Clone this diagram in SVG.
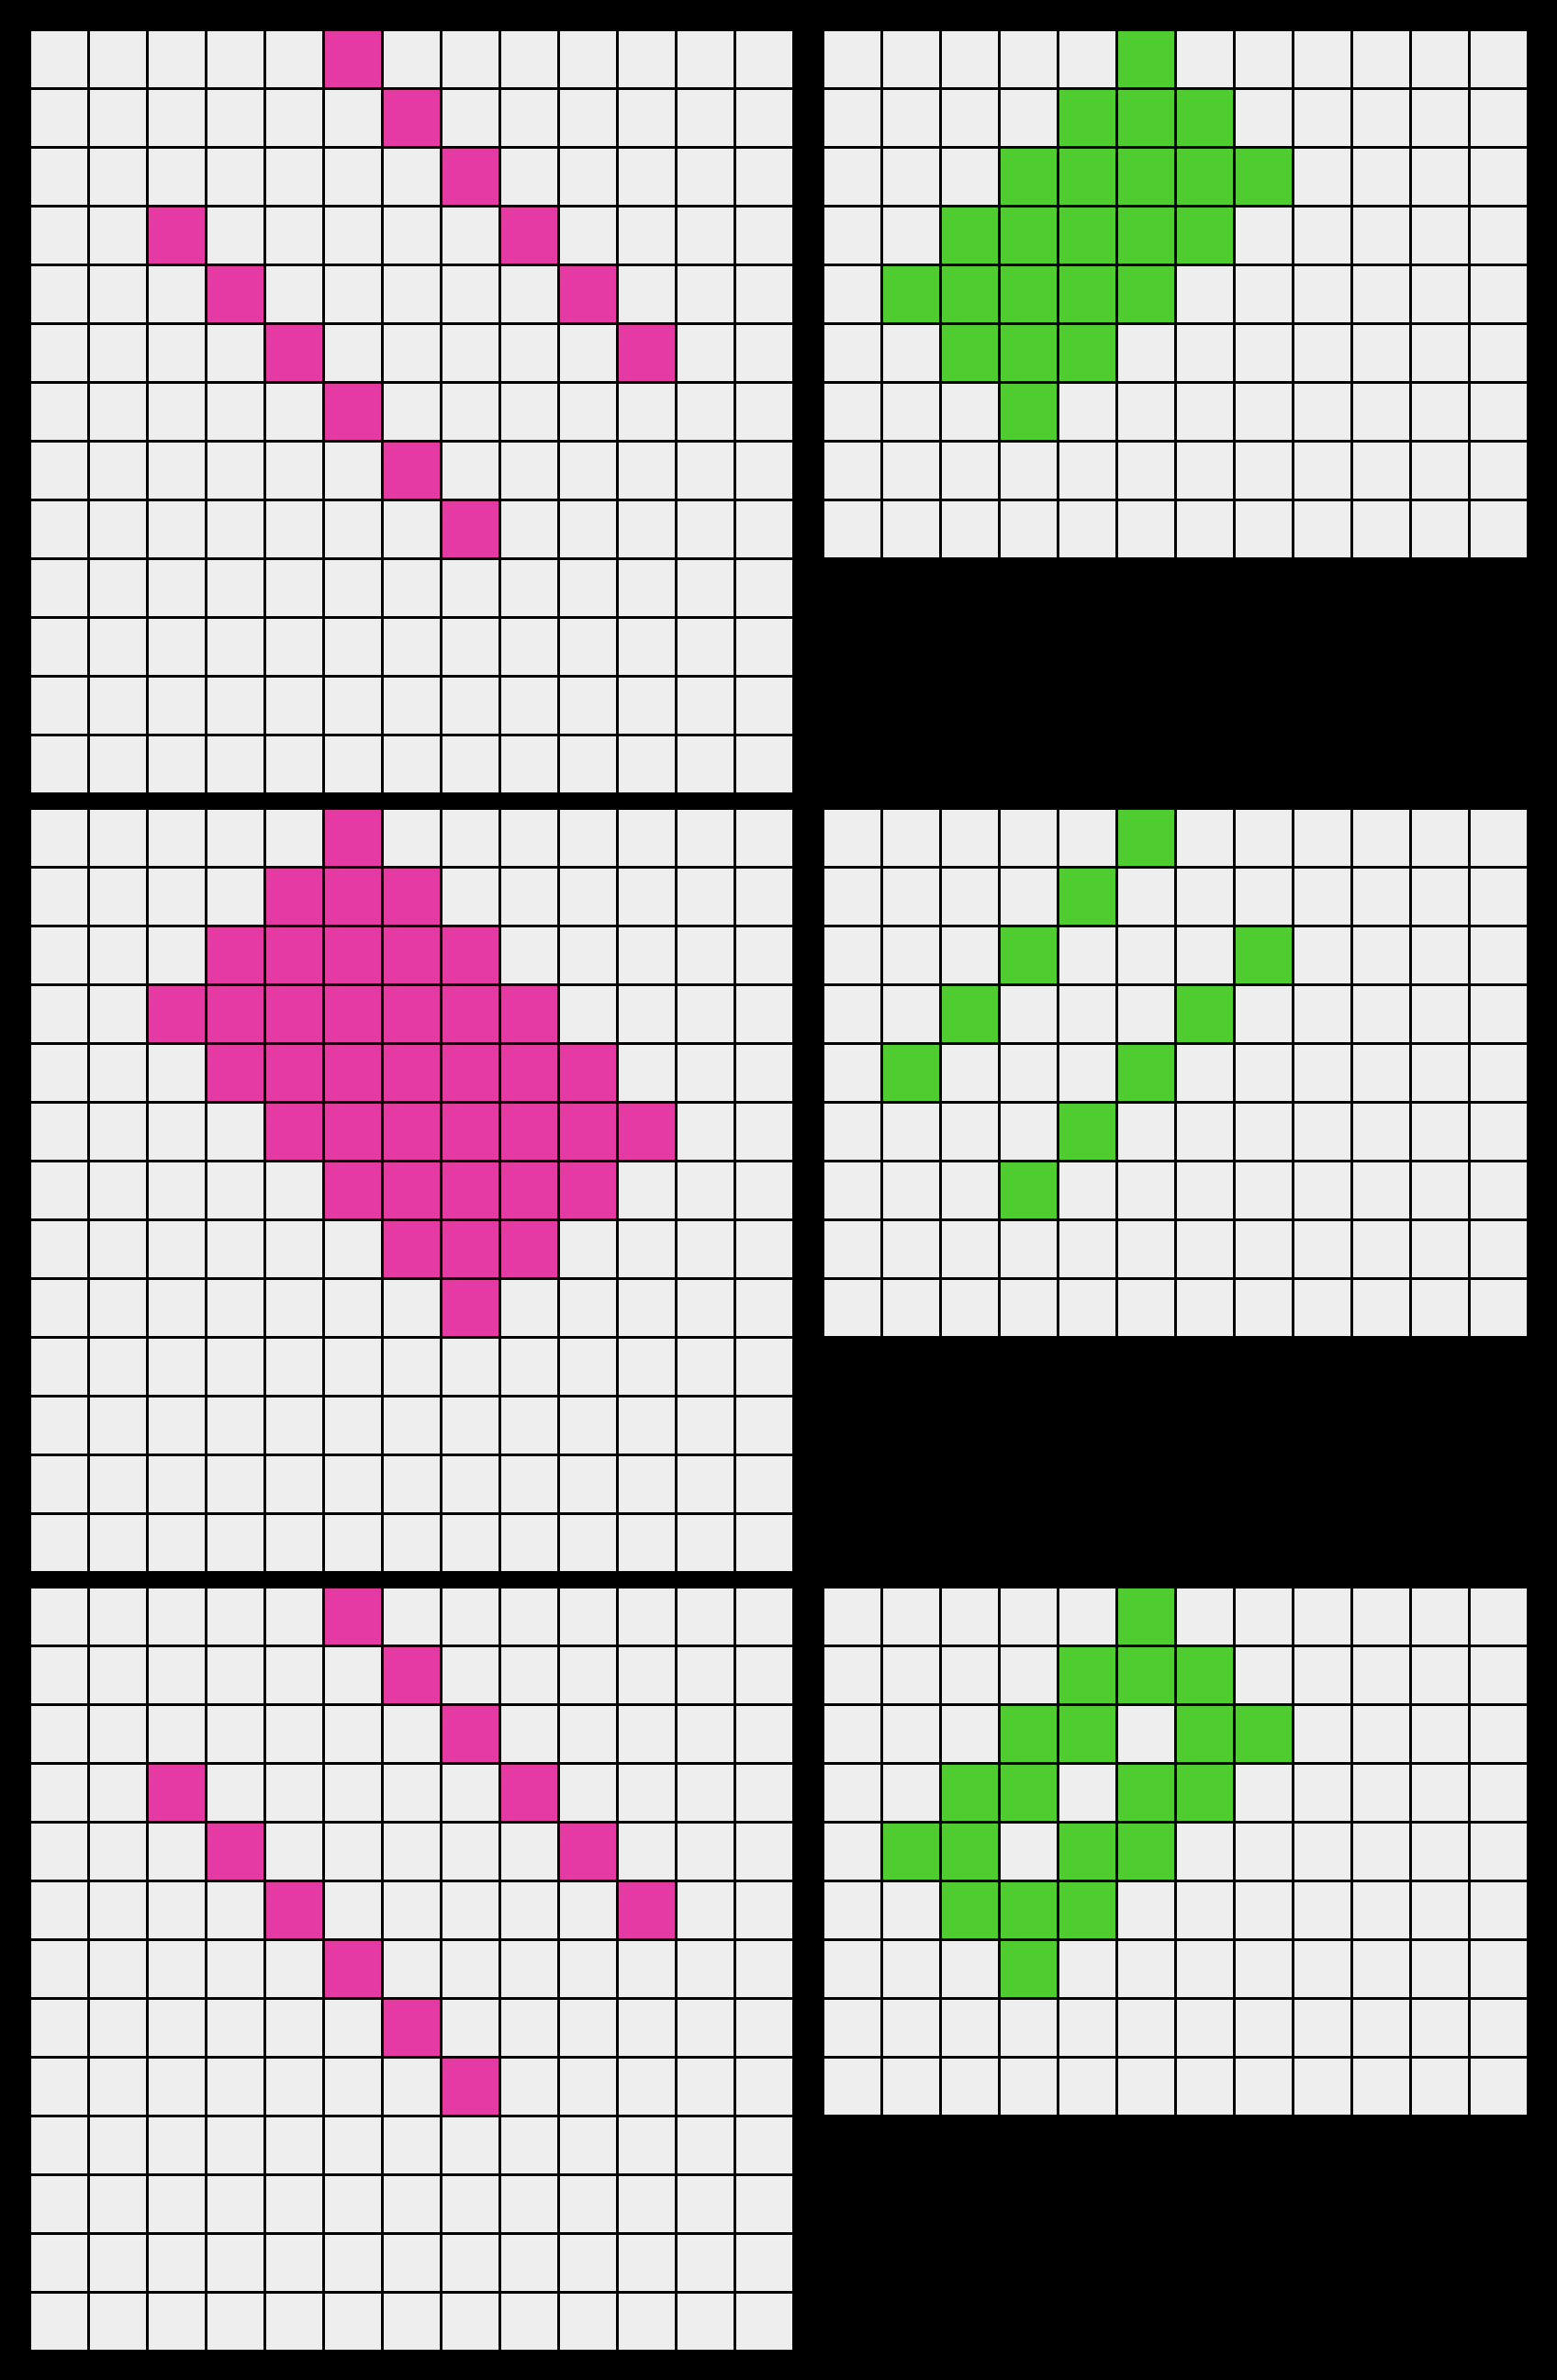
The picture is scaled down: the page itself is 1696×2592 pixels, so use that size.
<svg xmlns="http://www.w3.org/2000/svg" xmlns:xlink="http://www.w3.org/1999/xlink" width="1696" height="2592" viewBox="0 0 1696 2592">
<style>
.g{fill:#EEEEEE}
.p{fill:#E53AA3}
.q{fill:#4FCC30}
</style>
<defs>
<rect id="c" width="61" height="61"/>
<g id="r13" class="g">
<use href="#c" x="0"/><use href="#c" x="64"/><use href="#c" x="128"/><use href="#c" x="192"/><use href="#c" x="256"/><use href="#c" x="320"/><use href="#c" x="384"/><use href="#c" x="448"/><use href="#c" x="512"/><use href="#c" x="576"/><use href="#c" x="640"/><use href="#c" x="704"/><use href="#c" x="768"/>
</g>
<g id="r12" class="g">
<use href="#c" x="0"/><use href="#c" x="64"/><use href="#c" x="128"/><use href="#c" x="192"/><use href="#c" x="256"/><use href="#c" x="320"/><use href="#c" x="384"/><use href="#c" x="448"/><use href="#c" x="512"/><use href="#c" x="576"/><use href="#c" x="640"/><use href="#c" x="704"/>
</g>
<g id="g13">
<use href="#r13" y="0"/><use href="#r13" y="64"/><use href="#r13" y="128"/><use href="#r13" y="192"/><use href="#r13" y="256"/><use href="#r13" y="320"/><use href="#r13" y="384"/><use href="#r13" y="448"/><use href="#r13" y="512"/><use href="#r13" y="576"/><use href="#r13" y="640"/><use href="#r13" y="704"/><use href="#r13" y="768"/>
</g>
<g id="g12">
<use href="#r12" y="0"/><use href="#r12" y="64"/><use href="#r12" y="128"/><use href="#r12" y="192"/><use href="#r12" y="256"/><use href="#r12" y="320"/><use href="#r12" y="384"/><use href="#r12" y="448"/><use href="#r12" y="512"/>
</g>
<g id="pinkA" class="p">
<use href="#c" x="320" y="0"/><use href="#c" x="384" y="64"/><use href="#c" x="448" y="128"/>
<use href="#c" x="128" y="192"/><use href="#c" x="512" y="192"/>
<use href="#c" x="192" y="256"/><use href="#c" x="576" y="256"/>
<use href="#c" x="256" y="320"/><use href="#c" x="640" y="320"/>
<use href="#c" x="320" y="384"/><use href="#c" x="384" y="448"/><use href="#c" x="448" y="512"/>
</g>
</defs>
<rect width="1696" height="2592" fill="#000000"/>

<g id="input1" transform="translate(34,34)">
<use href="#g13"/>
<use href="#pinkA"/>
</g>

<g id="output1" transform="translate(898,34)">
<use href="#g12"/>
<g class="q">
<use href="#c" x="320" y="0"/>
<use href="#c" x="256" y="64"/><use href="#c" x="320" y="64"/><use href="#c" x="384" y="64"/>
<use href="#c" x="192" y="128"/><use href="#c" x="256" y="128"/><use href="#c" x="320" y="128"/><use href="#c" x="384" y="128"/><use href="#c" x="448" y="128"/>
<use href="#c" x="128" y="192"/><use href="#c" x="192" y="192"/><use href="#c" x="256" y="192"/><use href="#c" x="320" y="192"/><use href="#c" x="384" y="192"/>
<use href="#c" x="64" y="256"/><use href="#c" x="128" y="256"/><use href="#c" x="192" y="256"/><use href="#c" x="256" y="256"/><use href="#c" x="320" y="256"/>
<use href="#c" x="128" y="320"/><use href="#c" x="192" y="320"/><use href="#c" x="256" y="320"/>
<use href="#c" x="192" y="384"/>
</g>
</g>

<g id="input2" transform="translate(34,882)">
<use href="#g13"/>
<g class="p">
<use href="#c" x="320" y="0"/>
<use href="#c" x="256" y="64"/><use href="#c" x="320" y="64"/><use href="#c" x="384" y="64"/>
<use href="#c" x="192" y="128"/><use href="#c" x="256" y="128"/><use href="#c" x="320" y="128"/><use href="#c" x="384" y="128"/><use href="#c" x="448" y="128"/>
<use href="#c" x="128" y="192"/><use href="#c" x="192" y="192"/><use href="#c" x="256" y="192"/><use href="#c" x="320" y="192"/><use href="#c" x="384" y="192"/><use href="#c" x="448" y="192"/><use href="#c" x="512" y="192"/>
<use href="#c" x="192" y="256"/><use href="#c" x="256" y="256"/><use href="#c" x="320" y="256"/><use href="#c" x="384" y="256"/><use href="#c" x="448" y="256"/><use href="#c" x="512" y="256"/><use href="#c" x="576" y="256"/>
<use href="#c" x="256" y="320"/><use href="#c" x="320" y="320"/><use href="#c" x="384" y="320"/><use href="#c" x="448" y="320"/><use href="#c" x="512" y="320"/><use href="#c" x="576" y="320"/><use href="#c" x="640" y="320"/>
<use href="#c" x="320" y="384"/><use href="#c" x="384" y="384"/><use href="#c" x="448" y="384"/><use href="#c" x="512" y="384"/><use href="#c" x="576" y="384"/>
<use href="#c" x="384" y="448"/><use href="#c" x="448" y="448"/><use href="#c" x="512" y="448"/>
<use href="#c" x="448" y="512"/>
</g>
</g>

<g id="output2" transform="translate(898,882)">
<use href="#g12"/>
<g class="q">
<use href="#c" x="320" y="0"/>
<use href="#c" x="256" y="64"/>
<use href="#c" x="192" y="128"/><use href="#c" x="448" y="128"/>
<use href="#c" x="128" y="192"/><use href="#c" x="384" y="192"/>
<use href="#c" x="64" y="256"/><use href="#c" x="320" y="256"/>
<use href="#c" x="256" y="320"/>
<use href="#c" x="192" y="384"/>
</g>
</g>

<g id="input3" transform="translate(34,1730)">
<use href="#g13"/>
<use href="#pinkA"/>
</g>

<g id="output3" transform="translate(898,1730)">
<use href="#g12"/>
<g class="q">
<use href="#c" x="320" y="0"/>
<use href="#c" x="256" y="64"/><use href="#c" x="320" y="64"/><use href="#c" x="384" y="64"/>
<use href="#c" x="192" y="128"/><use href="#c" x="256" y="128"/><use href="#c" x="384" y="128"/><use href="#c" x="448" y="128"/>
<use href="#c" x="128" y="192"/><use href="#c" x="192" y="192"/><use href="#c" x="320" y="192"/><use href="#c" x="384" y="192"/>
<use href="#c" x="64" y="256"/><use href="#c" x="128" y="256"/><use href="#c" x="256" y="256"/><use href="#c" x="320" y="256"/>
<use href="#c" x="128" y="320"/><use href="#c" x="192" y="320"/><use href="#c" x="256" y="320"/>
<use href="#c" x="192" y="384"/>
</g>
</g>
</svg>
